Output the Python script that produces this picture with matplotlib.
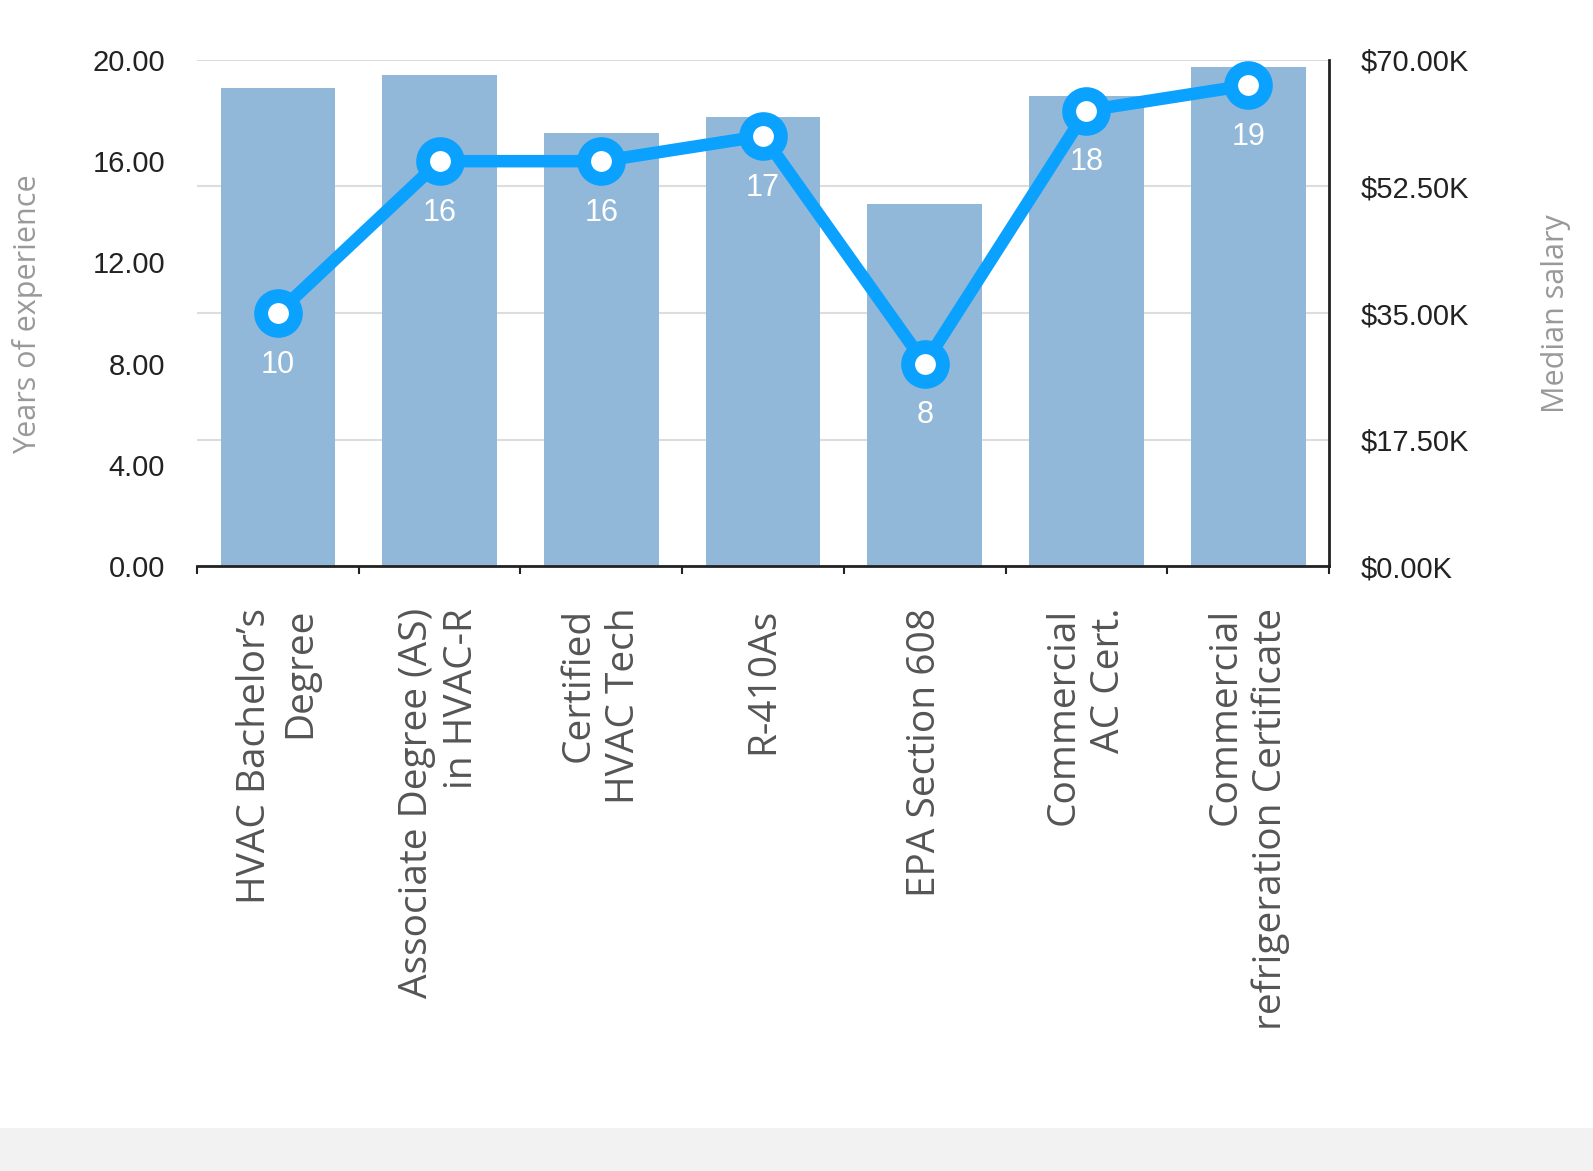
import numpy as np
import matplotlib.pyplot as plt
from matplotlib.patches import Rectangle

categories = ["HVAC Bachelor\u2019s\nDegree", "Associate Degree (AS)\nin HVAC-R",
              "Certified\nHVAC Tech", "R-410As", "EPA Section 608",
              "Commercial\nAC Cert.", "Commercial\nrefrigeration Certificate"]
salary = [66100, 67900, 59900, 62100, 50100, 65000, 69000]
years = [10, 16, 16, 17, 8, 18, 19]

fig = plt.figure(figsize=(15.93, 11.71), dpi=100)
fig.patches.append(Rectangle((0, 0), 1, 0.037, transform=fig.transFigure,
                             facecolor="#f2f2f2", edgecolor="none", zorder=0))

ax = fig.add_axes([0.1237, 0.5166, 0.7106, 0.4322])
ax2 = ax.twinx()
x = np.arange(len(categories))

# bars -> median salary (right axis)
ax.bar(x, salary, width=0.71, color="#92b8d9", zorder=2)
ax.set_ylim(0, 70000)
ax.set_xlim(-0.5, len(categories) - 0.5)
ax.yaxis.tick_right()
ax.set_yticks(np.arange(0, 70001, 17500))
ax.set_yticklabels([f"${v/1000:.2f}K" for v in np.arange(0, 70001, 17500)],
                   fontsize=21, family="Liberation Sans", color="#222222")
ax.tick_params(axis="y", length=0, pad=23)
ax.grid(axis="y", color="#dddddd", linewidth=1.5)
ax.set_axisbelow(True)

ax.set_xticks(np.arange(len(categories) + 1) - 0.5)
ax.set_xticklabels([])
ax.tick_params(axis="x", length=6, width=1.5, color="#222222")
ax.set_xticks(x, minor=True)
ax.set_xticklabels(categories, minor=True, rotation=90, fontsize=28,
                   family="Open Sans", color="#555555", va="top", ha="center",
                   multialignment="right", linespacing=1.25)
ax.tick_params(axis="x", which="minor", length=0, pad=30)

for s in ["top", "left"]:
    ax.spines[s].set_visible(False)
ax.spines["bottom"].set_linewidth(2)
ax.spines["bottom"].set_color("#222222")
ax.spines["right"].set_linewidth(2)
ax.spines["right"].set_color("#222222")

# line -> years of experience (left axis)
ax2.plot(x, years, color="#0aa1ff", linewidth=9, marker="o", markersize=25,
         markerfacecolor="white", markeredgecolor="#0aa1ff", markeredgewidth=10,
         zorder=3)
for xi, yi in zip(x, years):
    ax2.text(xi, yi - 2.05, str(yi), ha="center", va="center", color="white",
             fontsize=22, family="Liberation Sans")
ax2.set_ylim(0, 20)
ax2.yaxis.tick_left()
ax2.set_yticks(np.arange(0, 21, 4))
ax2.set_yticklabels([f"{v:.2f}" for v in np.arange(0, 21, 4)], fontsize=21,
                    family="Liberation Sans", color="#222222")
ax2.tick_params(axis="y", length=0, pad=23)
for s in ax2.spines.values():
    s.set_visible(False)

fig.text(0.017, 0.732, "Years of experience", rotation=90, ha="center", va="center",
         fontsize=22, family="Open Sans", color="#999999")
fig.text(0.977, 0.732, "Median salary", rotation=90, ha="center", va="center",
         fontsize=22, family="Open Sans", color="#999999")

fig.savefig("out.png", dpi=100)
